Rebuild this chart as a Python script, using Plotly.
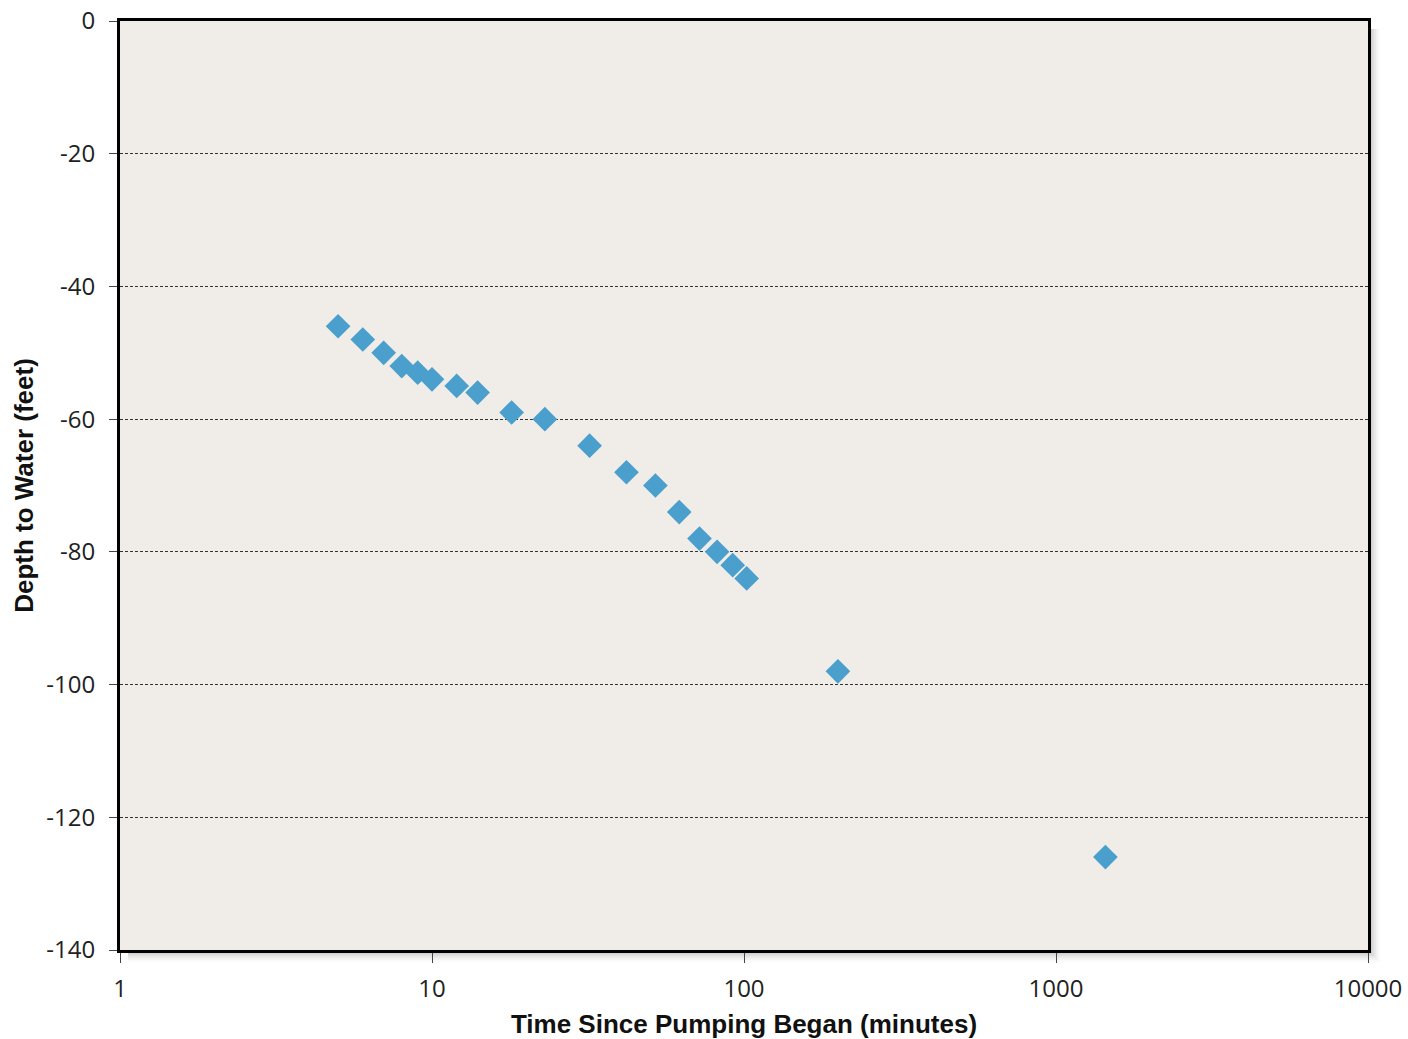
import plotly.graph_objects as go

time_min = [5, 6, 7, 8, 9, 10, 12, 14, 18, 23, 32, 42, 52, 62, 72, 82, 92, 102, 200, 1440]
depth_ft = [-46, -48, -50, -52, -53, -54, -55, -56, -59, -60, -64, -68, -70, -74, -78, -80, -82, -84, -98, -126]

x_ticks = [1, 10, 100, 1000, 10000]
x_tick_labels = ["1", "10", "100", "1000", "10000"]
y_ticks = [0, -20, -40, -60, -80, -100, -120, -140]
y_tick_labels = ["0", "-20", "-40", "-60", "-80", "-100", "-120", "-140"]

FIG_W, FIG_H = 1408, 1039
ML, MR, MT, MB = 120, 40, 21, 89

fig = go.Figure()
fig.add_trace(go.Scatter(
    x=time_min, y=depth_ft, mode="markers",
    marker=dict(symbol="diamond", size=19, color="#4A9FCC", line=dict(width=0)),
    showlegend=False,
))

# soft drop shadow behind plot box (paper coords), then plot background on top
W, H = FIG_W - ML - MR, FIG_H - MT - MB
for i, op in enumerate([0.07, 0.06, 0.05, 0.04, 0.03, 0.02]):
    d = 2 + 2 * i
    fig.add_shape(type="rect", xref="paper", yref="paper", layer="below",
                  x0=8 / W, x1=1 + d / W, y0=-d / H, y1=1 - 8 / H,
                  line=dict(width=0), fillcolor=f"rgba(0,0,0,{op})")
fig.add_shape(type="rect", xref="paper", yref="paper", layer="below",
              x0=0, x1=1, y0=0, y1=1, line=dict(width=0), fillcolor="#F0EDE8")

fig.update_layout(
    width=FIG_W, height=FIG_H,
    margin=dict(l=ML, r=MR, t=MT, b=MB),
    paper_bgcolor="white",
    plot_bgcolor="rgba(0,0,0,0)",
    font=dict(family="Open Sans, Liberation Sans, sans-serif", size=24, color="#222"),
)
fig.update_xaxes(
    type="log", range=[0, 4], automargin=False,
    tickvals=x_ticks, ticktext=x_tick_labels,
    showgrid=False, zeroline=False,
    showline=True, linewidth=3, linecolor="black", mirror=True,
    ticks="outside", ticklen=10, tickwidth=1, tickcolor="#444",
    ticklabelstandoff=5, ticklabeloverflow="allow",
    title=dict(text="<b>Time Since Pumping Began (minutes)</b>",
               font=dict(family="Liberation Sans, Arial, sans-serif", size=26, color="#111"),
               standoff=16),
)
fig.update_yaxes(
    range=[-140, 0], tickvals=y_ticks, ticktext=y_tick_labels, automargin=False,
    showgrid=True, gridcolor="#333", griddash="3px,2px", gridwidth=1,
    zeroline=False,
    showline=True, linewidth=3, linecolor="black", mirror=True,
    ticks="outside", ticklen=8, tickwidth=1, tickcolor="#444",
    ticklabelstandoff=9, ticklabeloverflow="allow",
    title=dict(text="<b>Depth to Water (feet)</b>",
               font=dict(family="Liberation Sans, Arial, sans-serif", size=26, color="#111"),
               standoff=6),
)

fig.write_html("out.html", config={"displayModeBar": False},
               post_script="document.body.style.margin='0';document.body.style.overflow='hidden';")
